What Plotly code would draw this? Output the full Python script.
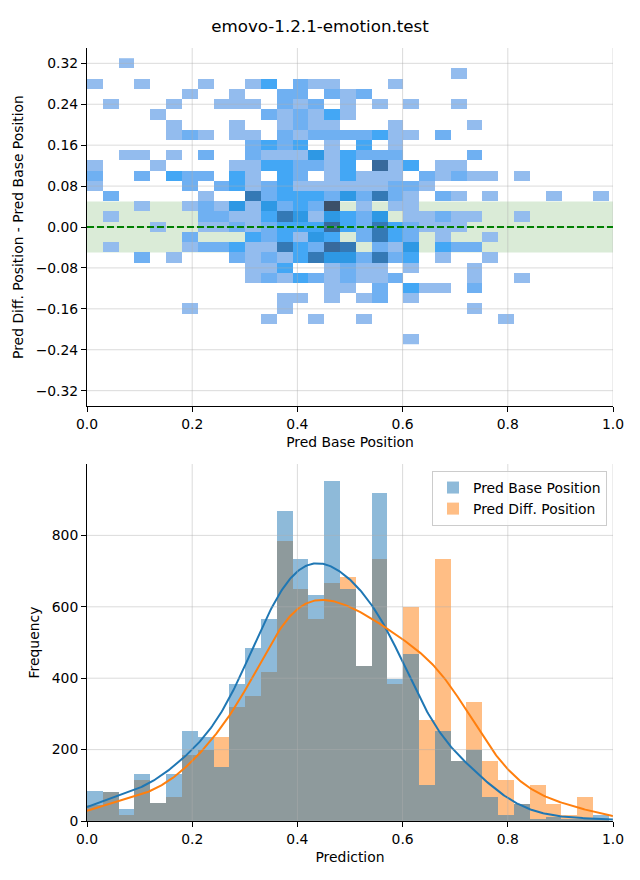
import numpy as np
import plotly.graph_objects as go
from plotly.subplots import make_subplots

TITLE = "emovo-1.2.1-emotion.test"

# ---- bins shared by both panels ----
N_BINS = 33
X_DATA_MAX = 0.992

# ---- bottom panel: histogram counts per bin ----
BASE_COUNTS = [83, 82, 33, 133, 50, 133, 251, 234, 151, 385, 485, 566, 868, 734, 634, 952,
               650, 435, 919, 399, 469, 100, 251, 167, 200, 66, 16, 49, 6, 12, 5, 3, 16]
DIFF_COUNTS = [45, 82, 17, 116, 50, 67, 184, 200, 234, 318, 351, 418, 784, 650, 566, 667,
               684, 435, 734, 385, 600, 284, 734, 167, 334, 167, 116, 49, 100, 49, 16, 66, 6]

# ---- top panel: 2D histogram (row y-centres, count level per x-bin; '.' = empty) ----
Y_CENTERS = [0.32, 0.30, 0.28, 0.26, 0.24, 0.22, 0.20, 0.18, 0.16, 0.14, 0.12, 0.10, 0.08, 0.06,
             0.04, 0.02, 0.00, -0.02, -0.04, -0.06, -0.08, -0.10, -0.12, -0.14, -0.16, -0.18,
             -0.20, -0.22]
HEAT_ROWS = [
    "..1.......|..........|..........|...",
    "..........|..........|...1......|...",
    "1..1...1..|13.211...1|..........|...",
    "......1..1|..22.212..|..........|...",
    ".1...1..11|1.212.1.1.|1..1......|...",
    "....1.....|.212131...|..........|...",
    ".....1...1|..1211...1|....1.....|...",
    ".....121.1|1.21222231|1.2.......|...",
    "..........|2323.1.3.1|..........|...",
    "..11.1.2..|2111413222|....2.....|...",
    "1...1....1|1332213.61|3.11......|...",
    "2..2.322.3|1.32.13111|.21211.1..|...",
    "1.....2.23|1231111112|21........|...",
    ".2.....1..|5233324252|1.21.1...1|..1",
    "...1..1214|142327.1.1|1.........|...",
    ".1.....221|135414324.|11211..1..|...",
    "....1..112|1233363253|2111......|...",
    "......2...|323143.253|2.1..1....|...",
    ".1....1223|1153265.21|4.322.....|...",
    "...2.1...2|1213544252|3.1..1....|...",
    "..........|113..1211.|1...1.....|...",
    "..........|1213212112|....1..1..|...",
    "..........|.....11.2.|311.2.....|...",
    "..........|..11.1.12.|1.........|...",
    "......1...|..1.......|....1.....|...",
    "..........|.1..1..1..|......1...|...",
    "..........|..........|..........|...",
    "..........|..........|1.........|...",
]

# ---- ticks ----
X_TICKS = [0.0, 0.2, 0.4, 0.6, 0.8, 1.0]
Y1_TICKS = [-0.32, -0.24, -0.16, -0.08, 0.0, 0.08, 0.16, 0.24, 0.32]
Y2_TICKS = [0, 200, 400, 600, 800]

BASE_COLOR = "#1f77b4"
DIFF_COLOR = "#ff7f0e"
LEVEL_COLORS = ["#93bcee", "#6fb0f2", "#43a7f5", "#2e98e4", "#3479b5", "#386a9c", "#3c5069"]
FONT = "DejaVu Sans"
GRID = "rgba(176,176,176,0.45)"

edges = np.linspace(0.0, X_DATA_MAX, N_BINS + 1)
centers = (edges[:-1] + edges[1:]) / 2
bw = edges[1] - edges[0]

z = []
for row in HEAT_ROWS:
    s = row.replace("|", "")
    z.append([None if ch == "." else int(ch) for ch in s])

n_lv = len(LEVEL_COLORS)
colorscale = [[i / (n_lv - 1), c] for i, c in enumerate(LEVEL_COLORS)]


def kde_counts(counts, grid, h):
    counts = np.asarray(counts, float)
    d = (grid[:, None] - centers[None, :]) / h
    k = np.exp(-0.5 * d ** 2) / (h * np.sqrt(2 * np.pi))
    return (k * counts[None, :]).sum(axis=1) * bw


grid = np.linspace(0, 1.0, 400)
KDE_BW = 0.058

fig = make_subplots(rows=2, cols=1)

fig.add_trace(go.Heatmap(x=centers, y=Y_CENTERS, z=z, colorscale=colorscale, zmin=1, zmax=n_lv,
                         showscale=False, hoverinfo="skip", xgap=0, ygap=0), row=1, col=1)

fig.add_trace(go.Bar(x=centers, y=DIFF_COUNTS, width=bw, marker=dict(color=DIFF_COLOR, line=dict(width=0)),
                     opacity=0.5, name="Pred Diff. Position", legendrank=2), row=2, col=1)
fig.add_trace(go.Bar(x=centers, y=BASE_COUNTS, width=bw, marker=dict(color=BASE_COLOR, line=dict(width=0)),
                     opacity=0.5, name="Pred Base Position", legendrank=1), row=2, col=1)
fig.add_trace(go.Scatter(x=grid, y=kde_counts(BASE_COUNTS, grid, KDE_BW), mode="lines",
                         line=dict(color=BASE_COLOR, width=2), showlegend=False, hoverinfo="skip"), row=2, col=1)
fig.add_trace(go.Scatter(x=grid, y=kde_counts(DIFF_COUNTS, grid, KDE_BW), mode="lines",
                         line=dict(color=DIFF_COLOR, width=2), showlegend=False, hoverinfo="skip"), row=2, col=1)

shapes = []
# tolerance band
shapes.append(dict(type="rect", xref="x domain", yref="y", x0=0, x1=1, y0=-0.05, y1=0.05,
                   fillcolor="rgba(60,150,40,0.19)", line=dict(width=0), layer="below"))
# grid lines (above data, semi-transparent)
for xa, ya, yt in (("x", "y", Y1_TICKS), ("x2", "y2", Y2_TICKS)):
    for xv in X_TICKS[1:]:
        shapes.append(dict(type="line", xref=xa, yref=ya + " domain", x0=xv, x1=xv, y0=0, y1=1,
                           line=dict(color=GRID, width=1), layer="above"))
    for yv in yt:
        shapes.append(dict(type="line", xref=xa + " domain", yref=ya, x0=0, x1=1, y0=yv, y1=yv,
                           line=dict(color=GRID, width=1), layer="above"))
# zero reference line
shapes.append(dict(type="line", xref="x domain", yref="y", x0=0, x1=1, y0=0, y1=0,
                   line=dict(color="green", width=2, dash="7px,3px"), layer="above"))

fig.update_layout(
    width=640, height=880, margin=dict(l=87, r=27, t=48, b=59),
    plot_bgcolor="white", paper_bgcolor="white",
    font=dict(family=FONT, size=13.9, color="black"),
    title=dict(text=TITLE, x=0.5, xref="container", xanchor="center", y=1 - 26 / 880, yref="container",
               yanchor="middle", font=dict(size=16.7, family=FONT, color="black")),
    barmode="overlay", bargap=0,
    shapes=shapes,
    legend=dict(x=0.9886, xanchor="right", y=(821 - 471) / 773, yanchor="top",
                bgcolor="rgba(255,255,255,0.8)", bordercolor="#cccccc", borderwidth=1,
                font=dict(size=13.9, family=FONT), tracegroupgap=0),
    showlegend=True,
)

axis_common = dict(showline=True, linecolor="black", linewidth=1, ticks="outside", ticklen=5, tickwidth=1,
                   tickcolor="black", showgrid=False, zeroline=False, mirror=False,
                   tickfont=dict(size=13.9, family=FONT))
fig.update_xaxes(axis_common)
fig.update_yaxes(axis_common)
fig.update_xaxes(range=[0, 1], tickvals=X_TICKS, ticktext=[f"{v:.1f}" for v in X_TICKS])
fig.update_layout(
    xaxis=dict(title=dict(text="Pred Base Position", standoff=6, font=dict(size=13.9)), anchor="y"),
    yaxis=dict(range=[-0.35, 0.35], tickvals=Y1_TICKS, tickformat=".2f", domain=[(821 - 406) / 773, 1],
               title=dict(text="Pred Diff. Position - Pred Base Position", standoff=8, font=dict(size=13.9))),
    xaxis2=dict(title=dict(text="Prediction", standoff=6, font=dict(size=13.9)), anchor="y2"),
    yaxis2=dict(range=[0, 1000], tickvals=Y2_TICKS, domain=[0, (821 - 464) / 773],
                title=dict(text="Frequency", standoff=8, font=dict(size=13.9))),
)

fig.write_html("out.html")
